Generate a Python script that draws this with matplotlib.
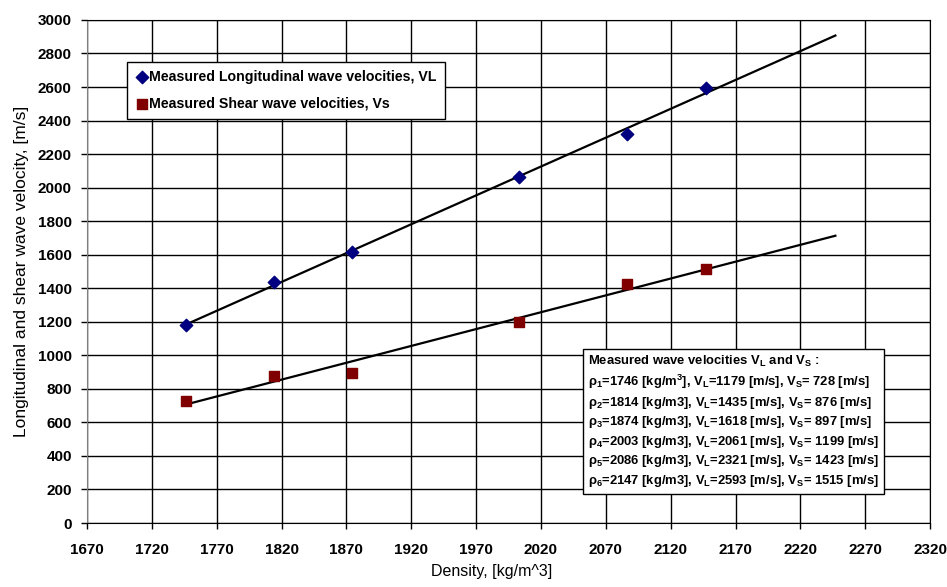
import matplotlib
matplotlib.use("Agg")
import matplotlib.pyplot as plt
import numpy as np

plt.rcParams['font.family'] = ['Liberation Sans', 'DejaVu Sans']
plt.rcParams['mathtext.fontset'] = 'custom'
plt.rcParams['mathtext.rm'] = 'Liberation Sans:bold'
plt.rcParams['mathtext.it'] = 'Liberation Sans:bold'
plt.rcParams['mathtext.bf'] = 'Liberation Sans:bold'

# measured data
density = np.array([1746, 1814, 1874, 2003, 2086, 2147])
v_long = np.array([1179, 1435, 1618, 2061, 2321, 2593])
v_shear = np.array([728, 876, 897, 1199, 1423, 1515])

x_ticks = np.arange(1670, 2321, 50)
y_ticks = np.arange(0, 3001, 200)

fig = plt.figure(figsize=(9.47, 5.87), dpi=100)
ax = fig.add_axes([0.0919, 0.109, 0.8902, 0.857])

# linear trendlines, extended 100 kg/m3 forward
x_fit = np.array([density[0], density[-1] + 100])
pl = np.polyfit(density, v_long, 1)
ps = np.polyfit(density, v_shear, 1)
ax.plot(x_fit, np.polyval(pl, x_fit), color='black', lw=1.6, zorder=3)
ax.plot(x_fit, np.polyval(ps, x_fit), color='black', lw=1.6, zorder=3)

ax.scatter(density, v_long, marker='D', s=40, color='#000080', zorder=4,
           label='Measured Longitudinal wave velocities, VL')
ax.scatter(density, v_shear, marker='s', s=48, color='#800000', zorder=4,
           label='Measured Shear wave velocities, Vs')

ax.set_xlim(1670, 2320)
ax.set_ylim(0, 3000)
ax.set_xticks(x_ticks)
ax.set_yticks(y_ticks)
ax.grid(True, color='black', lw=1)
ax.set_axisbelow(True)
for lab in ax.get_xticklabels() + ax.get_yticklabels():
    lab.set_fontweight('bold')
ax.tick_params(labelsize=11, length=4, width=1)
ax.tick_params(axis='y', pad=7)
ax.tick_params(axis='x', pad=10.5)
for s in ax.spines.values():
    s.set_color('black')
ax.spines['left'].set_color('#808080')

ax.set_xlabel('Density, [kg/m^3]', fontsize=11.5, va='center')
ax.xaxis.set_label_coords(0.48, -0.097)
ax.set_ylabel('Longitudinal and shear wave velocity, [m/s]', fontsize=12.5, va='center')
ax.yaxis.set_label_coords(-0.078, 0.5)

leg = ax.legend(loc='upper left', bbox_to_anchor=(0.048, 0.917), fancybox=False,
                edgecolor='black', framealpha=1, handletextpad=0.15,
                handlelength=0.8, borderpad=0.6, labelspacing=0.85,
                borderaxespad=0, prop={'weight': 'bold', 'size': 10.2})
leg.get_frame().set_linewidth(1)

info = (r"Measured wave velocities V$_L$ and V$_S$ :" "\n"
        r"$\rho_1$=1746 [kg/m$^3$], V$_L$=1179 [m/s], V$_S$= 728 [m/s]" "\n"
        r"$\rho_2$=1814 [kg/m3], V$_L$=1435 [m/s], V$_S$= 876 [m/s]" "\n"
        r"$\rho_3$=1874 [kg/m3], V$_L$=1618 [m/s], V$_S$= 897 [m/s]" "\n"
        r"$\rho_4$=2003 [kg/m3], V$_L$=2061 [m/s], V$_S$= 1199 [m/s]" "\n"
        r"$\rho_5$=2086 [kg/m3], V$_L$=2321 [m/s], V$_S$= 1423 [m/s]" "\n"
        r"$\rho_6$=2147 [kg/m3], V$_L$=2593 [m/s], V$_S$= 1515 [m/s]")
ax.text(0.594, 0.337, info, transform=ax.transAxes, fontsize=9.4,
        fontweight='bold', va='top', ha='left', linespacing=1.32, zorder=5,
        bbox=dict(boxstyle='square,pad=0.4', facecolor='white',
                  edgecolor='black', lw=1))

fig.savefig('out.png', dpi=100)
